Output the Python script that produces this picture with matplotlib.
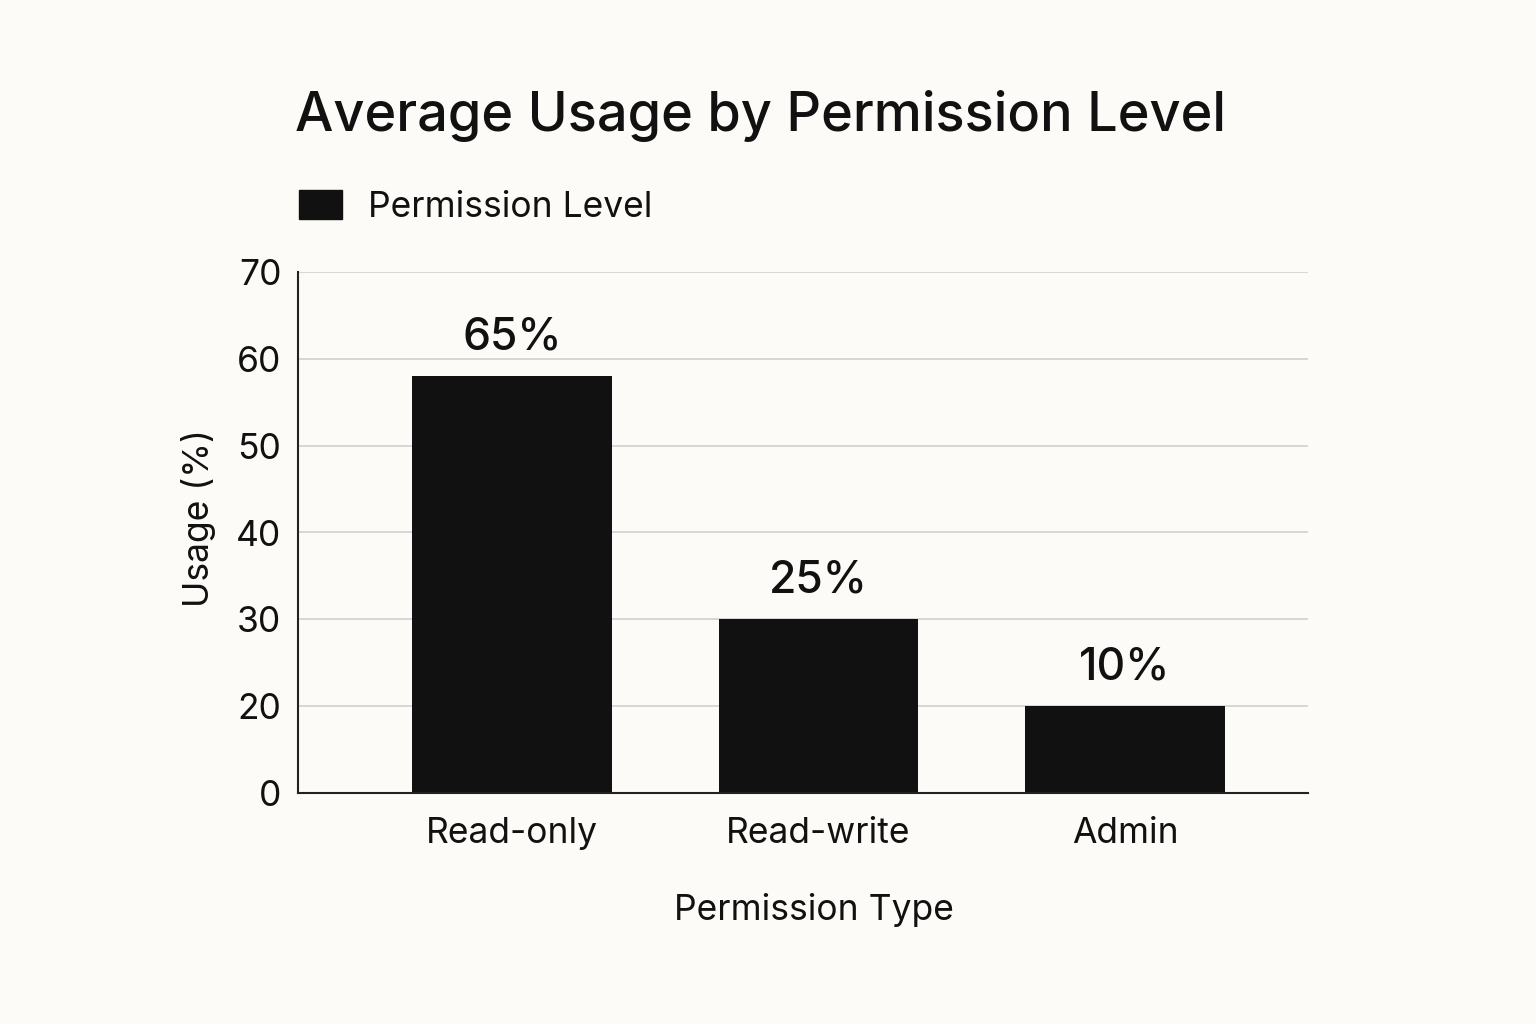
import numpy as np
import matplotlib
matplotlib.use('Agg')
from matplotlib import pyplot as plt
from matplotlib.patches import Patch

# data
categories = ['Read-only', 'Read-write', 'Admin']
usage = [58, 30, 20]
bar_labels = ['65%', '25%', '10%']
tick_values = [10, 20, 30, 40, 50, 60, 70]
tick_labels = ['0', '20', '30', '40', '50', '60', '70']

plt.rcParams['font.family'] = ['Inter', 'DejaVu Sans']

bg = '#fcfbf7'
ink = '#111111'

fig = plt.figure(figsize=(15.36, 10.24), dpi=100, facecolor=bg)
ax = fig.add_axes([298/1536, 1 - 793/1024, 1010/1536, 521/1024], facecolor=bg)

x = np.arange(len(categories))
bars = ax.bar(x, usage, width=0.65, color=ink, zorder=3)

for b, lab in zip(bars, bar_labels):
	ax.annotate(lab, (b.get_x() + b.get_width()/2, b.get_height()),
		xytext=(0, 28), textcoords='offset points',
		ha='center', va='center', fontsize=32, fontweight='medium', color=ink)

ax.set_xlim(-0.698, 2.597)
ax.set_ylim(10, 70)
ax.set_yticks(tick_values)
ax.set_yticklabels(tick_labels)
ax.set_xticks(x)
ax.set_xticklabels(categories)
ax.tick_params(axis='both', length=0, labelsize=25.5, colors=ink)
ax.tick_params(axis='y', pad=12)
ax.tick_params(axis='x', pad=17)

ax.grid(axis='y', color='#d6d6d6', linewidth=1.4, zorder=0)
for s in ['top', 'right']:
	ax.spines[s].set_visible(False)
for s in ['left', 'bottom']:
	ax.spines[s].set_color('#222222')
	ax.spines[s].set_linewidth(1.5)
	ax.spines[s].set_zorder(4)

fig.text(295/1536, 1 - 116/1024, 'Average Usage by Permission Level',
	ha='left', va='center', fontsize=39, fontweight='medium', color=ink)

fig.text(199/1536, 1 - 518/1024, 'Usage (%)', rotation=90,
	ha='center', va='center', fontsize=25.5, color=ink)
fig.text(814/1536, 1 - 910/1024, 'Permission Type',
	ha='center', va='center', fontsize=25.5, color=ink)

fig.legend(handles=[Patch(color=ink)], labels=['Permission Level'],
	loc='center left', bbox_to_anchor=(299/1536, 1 - 207/1024),
	frameon=False, fontsize=25.5, handlelength=1.2, handleheight=0.85,
	handletextpad=0.75, borderpad=0, borderaxespad=0, labelcolor=ink)

fig.savefig('out.png', dpi=100, facecolor=bg)
